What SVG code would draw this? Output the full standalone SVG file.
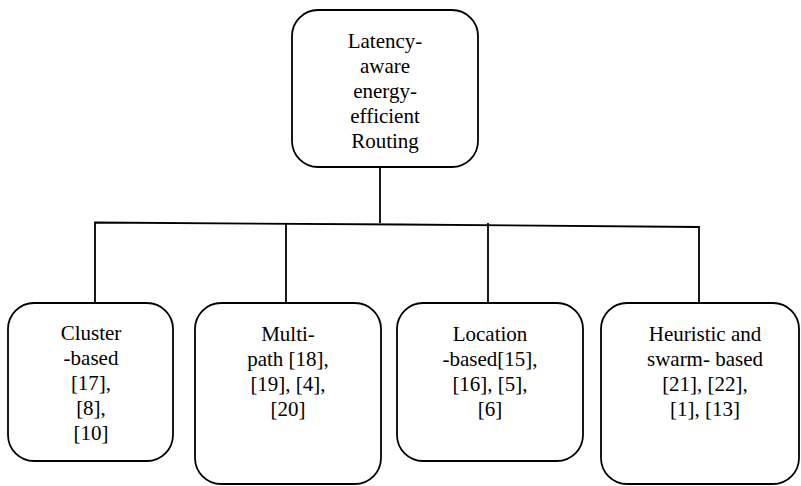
<svg xmlns="http://www.w3.org/2000/svg" width="801" height="486" viewBox="0 0 801 486" font-family="'Liberation Serif', 'Times New Roman', 'DejaVu Serif', serif">
<style>
.box{fill:#fff;stroke:#000;stroke-width:1.8}
.ln{fill:none;stroke:#000;stroke-width:1.8}
.t{font-size:21px;fill:#000;text-anchor:middle}
</style>
<rect width="801" height="486" fill="#fff"/>
<g id="connectors">
<line class="ln" x1="380" y1="167" x2="380" y2="223"/>
<polyline class="ln" points="95,302 95,222.5 400,224.5 699,227 699,302"/>
<line class="ln" x1="286" y1="223.8" x2="286" y2="302"/>
<line class="ln" x1="488" y1="223" x2="488" y2="302"/>
</g>
<g id="root">
<rect class="box" x="292" y="10" width="186" height="157" rx="26"/>
<text class="t" x="385" y="48">Latency-</text>
<text class="t" x="385" y="73">aware</text>
<text class="t" x="385" y="98">energy-</text>
<text class="t" x="385" y="123">efficient</text>
<text class="t" x="385" y="148">Routing</text>
</g>
<g id="cluster">
<rect class="box" x="8" y="303" width="165" height="158" rx="26"/>
<text class="t" x="91" y="340">Cluster</text>
<text class="t" x="91" y="365">-based</text>
<text class="t" x="91" y="390">[17],</text>
<text class="t" x="91" y="415">[8],</text>
<text class="t" x="91" y="440">[10]</text>
</g>
<g id="multipath">
<rect class="box" x="195" y="303" width="186" height="181" rx="26"/>
<text class="t" x="288" y="341">Multi-</text>
<text class="t" x="288" y="366">path [18],</text>
<text class="t" x="288" y="391">[19], [4],</text>
<text class="t" x="288" y="416">[20]</text>
</g>
<g id="location">
<rect class="box" x="397" y="303" width="186" height="158" rx="26"/>
<text class="t" x="490" y="341">Location</text>
<text class="t" x="490" y="366">-based[15],</text>
<text class="t" x="490" y="391">[16], [5],</text>
<text class="t" x="490" y="416">[6]</text>
</g>
<g id="heuristic">
<rect class="box" x="601" y="303" width="198" height="181" rx="26"/>
<text class="t" x="705" y="341">Heuristic and</text>
<text class="t" x="705" y="366">swarm- based</text>
<text class="t" x="705" y="391">[21], [22],</text>
<text class="t" x="705" y="416">[1], [13]</text>
</g>
</svg>
